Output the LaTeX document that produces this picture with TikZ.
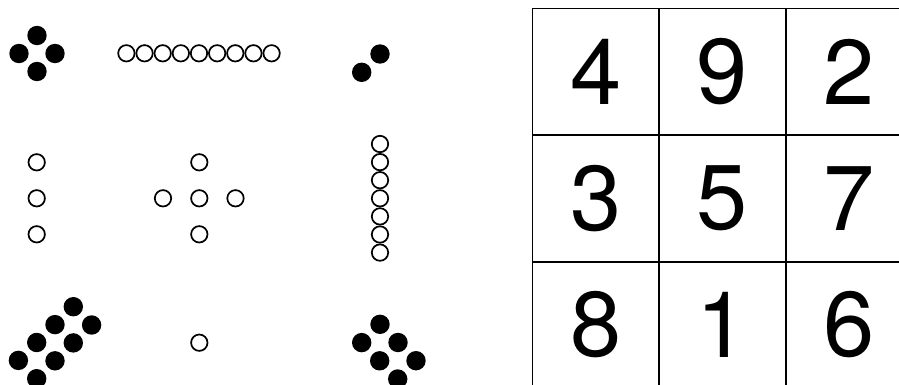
\documentclass[tikz,border=0pt]{standalone}
\usepackage{fontspec}
\newfontfamily\heros{TeX Gyre Heros}
\usepackage{tikz}
\usetikzlibrary{positioning}
\tikzset{
  cell/.style={rectangle, draw=black, line width=1.7pt, minimum size=126.6pt,
    inner sep=0pt, outer sep=0pt, font=\heros\fontsize{92}{92}\selectfont},
  blackdot/.style={fill=black},
  whitedot/.style={draw=black, line width=1.7pt},
}

\begin{document}
\begin{tikzpicture}[x=1pt, y=-1pt, node distance=0pt]
  \useasboundingbox (0,0) rectangle (899,385);
  % the square
  \node[cell] at (595.8,71.75) (n4) {4};
  \node[cell, right=of n4] (n9) {9};
  \node[cell, right=of n9] (n2) {2};
  \node[cell, below=of n4] (n3) {3};
  \node[cell, right=of n3] (n5) {5};
  \node[cell, right=of n5] (n7) {7};
  \node[cell, below=of n3] (n8) {8};
  \node[cell, right=of n8] (n1) {1};
  \node[cell, right=of n1] (n6) {6};
  % top row of dots
  \foreach \p in {(37,35.5),(19,53.5),(55,53.5),(37,71.5)}
    \fill[blackdot] \p circle (9.7pt);
  \foreach \i in {0,...,8}
    \draw[whitedot] (126.4+18.15*\i,53.3) circle (8.2pt);
  \fill[blackdot] (380,54) circle (9.7pt) (361.7,72.3) circle (9.7pt);
  % middle row
  \foreach \j in {0,1,2}
    \draw[whitedot] (36.7,162.3+36*\j) circle (8.2pt);
  \foreach \p in {(199.3,162.3),(163,198.3),(199.3,198.3),(235.5,198.3),(199.3,234.3)}
    \draw[whitedot] \p circle (8.2pt);
  \foreach \i in {0,...,6}
    \draw[whitedot] (380,144+18.1*\i) circle (8.2pt);
  % bottom row
  \foreach \a in {0,1}
    \foreach \k in {0,...,3}
      \fill[blackdot] (73.3+18.3*\a-18.3*\k,306.7+18.3*\a+17.9*\k) circle (9.7pt);
  \draw[whitedot] (199.3,342.7) circle (8.2pt);
  \foreach \a in {0,1}
    \foreach \k in {0,1,2}
      \fill[blackdot] (380-18.3*\a+18*\k,324.3+18.3*\a+18.2*\k) circle (9.7pt);
\end{tikzpicture}
\end{document}
